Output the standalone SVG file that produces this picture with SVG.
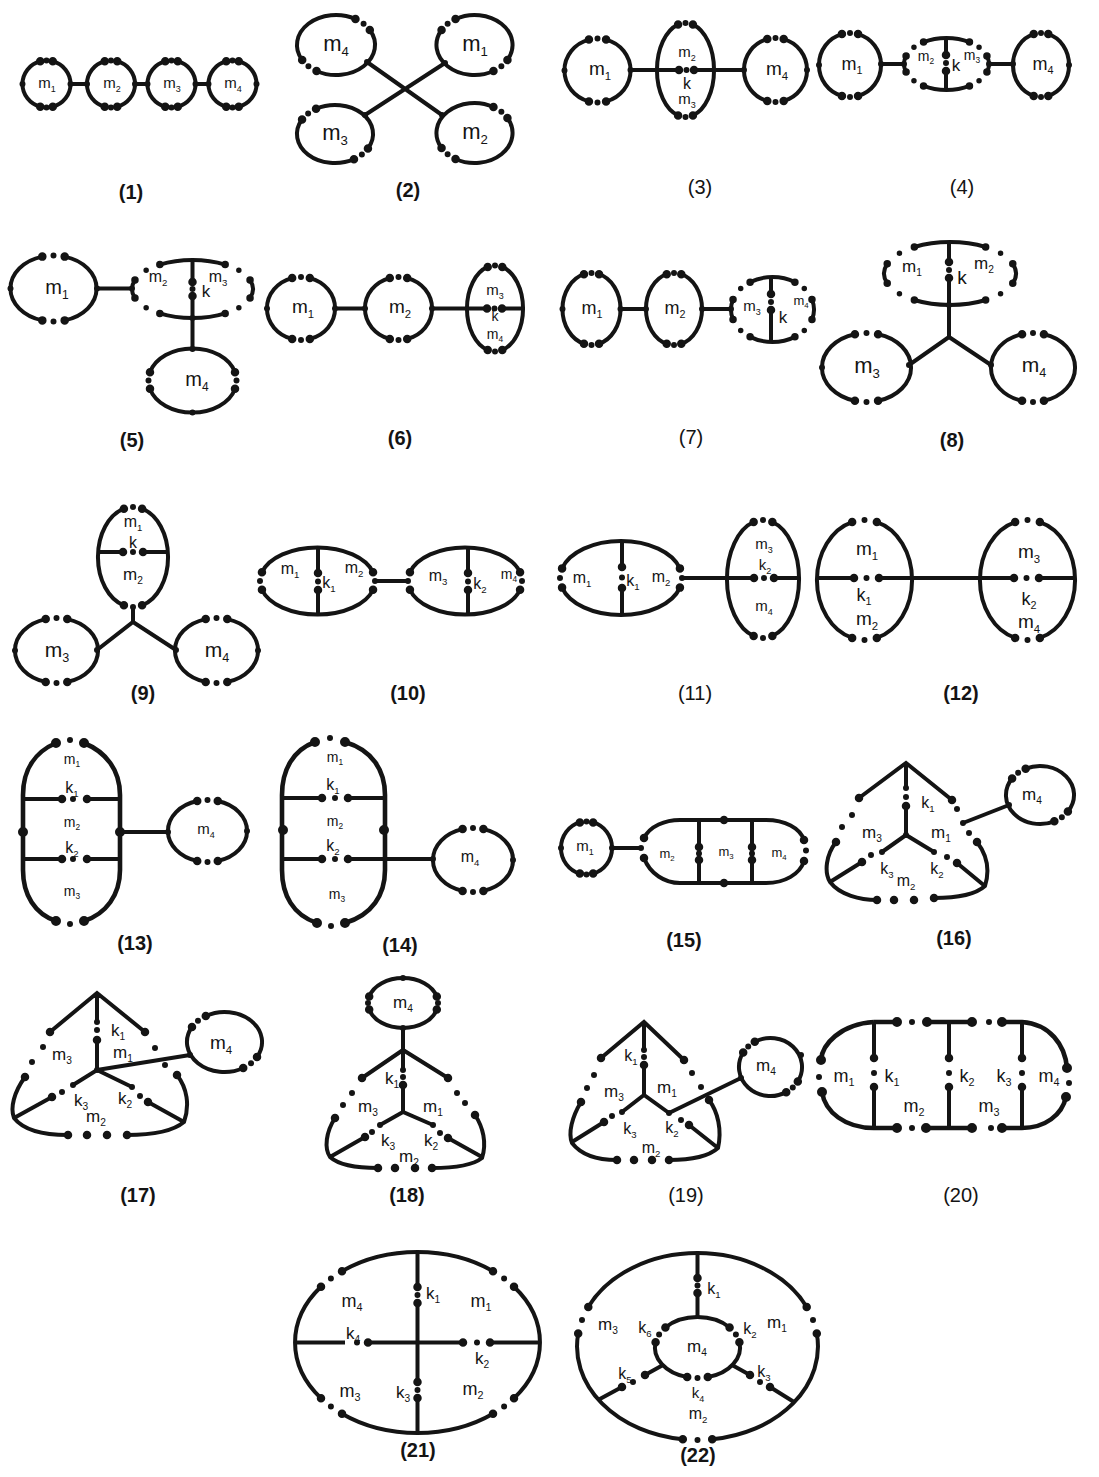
<svg xmlns="http://www.w3.org/2000/svg" width="1099" height="1477" viewBox="0 0 1099 1477">
<style>
.ln{fill:none;stroke:#141414;stroke-width:4}
.lw{fill:none;stroke:#141414;stroke-width:4.6}
.dX{fill:none;stroke:#141414;stroke-width:10;stroke-linecap:round}
.dB{fill:none;stroke:#141414;stroke-width:8.5;stroke-linecap:round}
.dS{fill:none;stroke:#141414;stroke-width:6;stroke-linecap:round}
text{font-family:"Liberation Sans",Arial,sans-serif;fill:#141414;text-anchor:middle}
.s{font-size:0.6em}
.cap{font-size:20px}
.b{font-weight:bold}
</style>
<defs>
<!-- unit ring, gaps at top and bottom, each gap drawn as three dots -->
<g id="rTB" fill="none" stroke="#141414">
<path vector-effect="non-scaling-stroke" stroke-width="4" d="M-0.26,-0.966A1,1 0 0 0 -0.26,0.966M0.26,-0.966A1,1 0 0 1 0.26,0.966"/>
<path vector-effect="non-scaling-stroke" stroke-width="8.5" stroke-linecap="round" d="M-0.26,-0.966h0M0.26,-0.966h0M-0.26,0.966h0M0.26,0.966h0"/>
<path vector-effect="non-scaling-stroke" stroke-width="6" stroke-linecap="round" d="M0,-1h0M0,1h0"/>
</g>
<!-- unit ring with four dotted diagonal gaps -->
<g id="r4" fill="none" stroke="#141414">
<path vector-effect="non-scaling-stroke" stroke-width="4" d="M-0.54,-0.842A1,1 0 0 1 0.54,-0.842M0.951,-0.309A1,1 0 0 1 0.951,0.309M0.54,0.842A1,1 0 0 1 -0.54,0.842M-0.951,0.309A1,1 0 0 1 -0.951,-0.309"/>
<path vector-effect="non-scaling-stroke" stroke-width="7.5" stroke-linecap="round" d="M-0.54,-0.842h0M0.54,-0.842h0M0.951,-0.309h0M0.951,0.309h0M0.54,0.842h0M-0.54,0.842h0M-0.951,0.309h0M-0.951,-0.309h0"/>
<path vector-effect="non-scaling-stroke" stroke-width="5.5" stroke-linecap="round" d="M-0.766,-0.643h0M0.766,-0.643h0M0.766,0.643h0M-0.766,0.643h0"/>
</g>
</defs>
<rect width="1099" height="1477" fill="#fff"/>

<!-- (1) chain of four rings -->
<g id="d1">
<g id="d1-m1"><use href="#rTB" transform="translate(46.5,84) scale(24,23.5)"/><text x="47" y="88" font-size="15">m<tspan class="s" dy=".4em">1</tspan></text></g>
<g id="d1-m2"><use href="#rTB" transform="translate(111,84) scale(24,23.5)"/><text x="112" y="88" font-size="15">m<tspan class="s" dy=".4em">2</tspan></text></g>
<g id="d1-m3"><use href="#rTB" transform="translate(171.5,84) scale(24,23.5)"/><text x="172" y="88" font-size="15">m<tspan class="s" dy=".4em">3</tspan></text></g>
<g id="d1-m4"><use href="#rTB" transform="translate(232.5,84) scale(24,23.5)"/><text x="233" y="88" font-size="15">m<tspan class="s" dy=".4em">4</tspan></text></g>
<g id="d1-links"><path class="ln" d="M70.5,84H87M135,84H147.5M195.5,84H208.5"/><path class="dS" d="M22.5,84h0M70.5,84h0M87,84h0M135,84h0M147.5,84h0M195.5,84h0M208.5,84h0M256.5,84h0"/></g>
</g>

<!-- (2) four rings joined by a cross -->
<g id="d2">
<g id="d2-m4"><use href="#rTB" transform="translate(336,45) scale(39,30) rotate(45)"/><text x="336" y="51" font-size="22">m<tspan class="s" dy=".4em">4</tspan></text></g>
<g id="d2-m1"><use href="#rTB" transform="translate(474.5,45) scale(38,30) rotate(-45)"/><text x="475" y="51" font-size="22">m<tspan class="s" dy=".4em">1</tspan></text></g>
<g id="d2-m3"><use href="#rTB" transform="translate(335,134) scale(38,29) rotate(-45)"/><text x="335" y="140" font-size="22">m<tspan class="s" dy=".4em">3</tspan></text></g>
<g id="d2-m2"><use href="#rTB" transform="translate(474.5,133) scale(38,30) rotate(45)"/><text x="475" y="139" font-size="22">m<tspan class="s" dy=".4em">2</tspan></text></g>
<g id="d2-links"><path class="ln" d="M367,62L442,115M445,63L365,115"/><path class="dS" d="M367,62h0M442,115h0M445,63h0M365,115h0"/></g>
</g>

<!-- (3) -->
<g id="d3">
<g id="d3-m1"><use href="#rTB" transform="translate(597.5,70.5) scale(33,32)"/><text x="600" y="75" font-size="19">m<tspan class="s" dy=".4em">1</tspan></text></g>
<g id="d3-m23"><use href="#rTB" transform="translate(685.5,70) scale(28.5,47)"/>
<text x="687" y="57" font-size="15">m<tspan class="s" dy=".4em">2</tspan></text><text x="687" y="89" font-size="16">k</text><text x="687" y="104" font-size="15">m<tspan class="s" dy=".4em">3</tspan></text></g>
<g id="d3-m4"><use href="#rTB" transform="translate(775.5,70) scale(31.5,32)"/><text x="777" y="75" font-size="19">m<tspan class="s" dy=".4em">4</tspan></text></g>
<g id="d3-links"><path class="ln" d="M630.5,70H679M694,70H744"/><path class="dB" d="M679,70h0M694,70h0"/><path class="dS" d="M686.5,70h0M564.5,70.5h0M630.5,70h0M744,70h0M807,70h0"/></g>
</g>

<!-- (4) -->
<g id="d4">
<g id="d4-m1"><use href="#rTB" transform="translate(850,65) scale(31,32)"/><text x="852" y="70" font-size="18">m<tspan class="s" dy=".4em">1</tspan></text></g>
<g id="d4-m23"><use href="#r4" transform="translate(946.5,64) scale(42.5,26)"/>
<text x="926" y="61" font-size="14">m<tspan class="s" dy=".4em">2</tspan></text><text x="956" y="71" font-size="17">k</text><text x="972" y="60" font-size="14">m<tspan class="s" dy=".4em">3</tspan></text></g>
<g id="d4-m4"><use href="#rTB" transform="translate(1041,65) scale(28,32)"/><text x="1043" y="70" font-size="18">m<tspan class="s" dy=".4em">4</tspan></text></g>
<g id="d4-links"><path class="ln" d="M881,64H904M989,64H1013M946,38V55M946,71V90"/><path class="dB" d="M946,55h0M946,71h0"/><path class="dS" d="M946,63h0M819,65h0M881,64h0M904,64h0M989,64h0M1013,64h0M1069,65h0"/></g>
</g>

<!-- (5) -->
<g id="d5">
<g id="d5-m1"><use href="#rTB" transform="translate(53.5,288.5) scale(43,33)"/><text x="57" y="294" font-size="20">m<tspan class="s" dy=".4em">1</tspan></text></g>
<g id="d5-m23"><use href="#r4" transform="translate(192.5,289) scale(60.5,29)"/>
<text x="158" y="282" font-size="16">m<tspan class="s" dy=".4em">2</tspan></text><text x="206" y="297" font-size="17">k</text><text x="218" y="282" font-size="16">m<tspan class="s" dy=".4em">3</tspan></text></g>
<g id="d5-m4"><use href="#rTB" transform="translate(192.5,380.5) scale(44,32) rotate(90)"/><text x="197" y="386" font-size="20">m<tspan class="s" dy=".4em">4</tspan></text></g>
<g id="d5-links"><path class="ln" d="M97,288.5H132M192.5,260V282M192.5,296V349"/><path class="dB" d="M192.5,282h0M192.5,296h0"/><path class="dS" d="M192.5,289h0M10.5,288.5h0M97,288.5h0M132,288.5h0M192.5,318h0M192.5,349h0M192.5,412.5h0"/></g>
</g>

<!-- (6) -->
<g id="d6">
<g id="d6-m1"><use href="#rTB" transform="translate(301,308.5) scale(34,31.5)"/><text x="303" y="313" font-size="19">m<tspan class="s" dy=".4em">1</tspan></text></g>
<g id="d6-m2"><use href="#rTB" transform="translate(398.5,308.5) scale(33.5,31.5)"/><text x="400" y="313" font-size="19">m<tspan class="s" dy=".4em">2</tspan></text></g>
<g id="d6-m34"><use href="#rTB" transform="translate(495,308.5) scale(28,43)"/>
<text x="495" y="295" font-size="15">m<tspan class="s" dy=".4em">3</tspan></text><text x="495" y="321" font-size="14">k</text><text x="495" y="339" font-size="14">m<tspan class="s" dy=".4em">4</tspan></text></g>
<g id="d6-links"><path class="ln" d="M335,308.5H365M432,308.5H487M502,308.5H523"/><path class="dB" d="M487,308.5h0M502,308.5h0"/><path class="dS" d="M494.5,308.5h0M267,308.5h0M335,308.5h0M365,308.5h0M432,308.5h0"/></g>
</g>

<!-- (7) -->
<g id="d7">
<g id="d7-m1"><use href="#rTB" transform="translate(591.5,309) scale(29,36)"/><text x="592" y="314" font-size="18">m<tspan class="s" dy=".4em">1</tspan></text></g>
<g id="d7-m2"><use href="#rTB" transform="translate(674,309) scale(28,36)"/><text x="675" y="314" font-size="18">m<tspan class="s" dy=".4em">2</tspan></text></g>
<g id="d7-m34"><use href="#r4" transform="translate(772.5,309.5) scale(41.5,32.5)"/>
<text x="752" y="311" font-size="15">m<tspan class="s" dy=".4em">3</tspan></text><text x="783" y="323" font-size="17">k</text><text x="801" y="305" font-size="13">m<tspan class="s" dy=".4em">4</tspan></text></g>
<g id="d7-links"><path class="ln" d="M620.5,309H646M702,309H731M771,277V294M771,310V342"/><path class="dB" d="M771,294h0M771,310h0"/><path class="dS" d="M771,302h0M562.5,309h0M620.5,309h0M646,309h0M702,309h0M731,309h0"/></g>
</g>

<!-- (8) -->
<g id="d8">
<g id="d8-m12"><use href="#r4" transform="translate(950,273.5) scale(66,31.5)"/>
<text x="912" y="272" font-size="17">m<tspan class="s" dy=".4em">1</tspan></text><text x="962" y="284" font-size="19">k</text><text x="984" y="269" font-size="17">m<tspan class="s" dy=".4em">2</tspan></text></g>
<g id="d8-m3"><use href="#rTB" transform="translate(866.5,367.5) scale(44.5,34.5)"/><text x="867" y="373" font-size="22">m<tspan class="s" dy=".4em">3</tspan></text></g>
<g id="d8-m4"><use href="#rTB" transform="translate(1033,367.5) scale(42,34.5)"/><text x="1034" y="372" font-size="21">m<tspan class="s" dy=".4em">4</tspan></text></g>
<g id="d8-links"><path class="ln" d="M949,242V262M949,278V337M909,365L949,337L991,365"/><path class="dB" d="M949,262h0M949,278h0"/><path class="dS" d="M949,270h0M949,305h0M822,367.5h0M909,365h0M991,365h0"/></g>
</g>

<!-- (9) -->
<g id="d9">
<g id="d9-m12"><use href="#rTB" transform="translate(133,557) scale(35,50)"/>
<text x="133" y="527" font-size="16">m<tspan class="s" dy=".4em">1</tspan></text><text x="133" y="548" font-size="16">k</text><text x="133" y="580" font-size="17">m<tspan class="s" dy=".4em">2</tspan></text></g>
<g id="d9-m3"><use href="#rTB" transform="translate(56.5,650.5) scale(41.5,32.5)"/><text x="57" y="657" font-size="21">m<tspan class="s" dy=".4em">3</tspan></text></g>
<g id="d9-m4"><use href="#rTB" transform="translate(216.5,650.5) scale(41.5,32.5)"/><text x="217" y="657" font-size="21">m<tspan class="s" dy=".4em">4</tspan></text></g>
<g id="d9-links"><path class="ln" d="M98,552H123M143,552H168M133,607V622M97,650L133,622L176,650"/><path class="dB" d="M123,552h0M143,552h0"/><path class="dS" d="M133,552h0M15,650.5h0M97,650h0M176,650h0M258,650.5h0"/></g>
</g>

<!-- (10) -->
<g id="d10">
<g id="d10-m12"><use href="#rTB" transform="translate(317.5,581) scale(57.5,33.5) rotate(90)"/>
<text x="290" y="574" font-size="16">m<tspan class="s" dy=".4em">1</tspan></text><text x="329" y="588" font-size="16">k<tspan class="s" dy=".4em">1</tspan></text><text x="354" y="573" font-size="16">m<tspan class="s" dy=".4em">2</tspan></text></g>
<g id="d10-m34"><use href="#rTB" transform="translate(465,581) scale(57,33.5) rotate(90)"/>
<text x="438" y="581" font-size="16">m<tspan class="s" dy=".4em">3</tspan></text><text x="480" y="589" font-size="16">k<tspan class="s" dy=".4em">2</tspan></text><text x="509" y="579" font-size="14">m<tspan class="s" dy=".4em">4</tspan></text></g>
<g id="d10-links"><path class="ln" d="M318,548V573M318,590V614.5M375,581H408M468,548V573M468,590V614.5"/><path class="dB" d="M318,573h0M318,590h0M468,573h0M468,590h0"/><path class="dS" d="M318,581.5h0M468,581.5h0"/></g>
</g>

<!-- (11) -->
<g id="d11">
<g id="d11-m12"><use href="#rTB" transform="translate(621,578) scale(61,37) rotate(90)"/>
<text x="582" y="583" font-size="16">m<tspan class="s" dy=".4em">1</tspan></text><text x="633" y="586" font-size="16">k<tspan class="s" dy=".4em">1</tspan></text><text x="661" y="582" font-size="16">m<tspan class="s" dy=".4em">2</tspan></text></g>
<g id="d11-m34"><use href="#rTB" transform="translate(763,579) scale(36,59)"/>
<text x="764" y="549" font-size="15">m<tspan class="s" dy=".4em">3</tspan></text><text x="765" y="570" font-size="15">k<tspan class="s" dy=".4em">2</tspan></text><text x="764" y="611" font-size="15">m<tspan class="s" dy=".4em">4</tspan></text></g>
<g id="d11-links"><path class="ln" d="M622,541V567M622,588V615M682,578H754M774,578H799"/><path class="dB" d="M622,567h0M622,588h0M754,578h0M774,578h0"/><path class="dS" d="M622,577.5h0M764,578h0"/></g>
</g>

<!-- (12) -->
<g id="d12">
<g id="d12-m12"><use href="#rTB" transform="translate(864.5,580) scale(47.5,60)"/>
<text x="867" y="555" font-size="19">m<tspan class="s" dy=".4em">1</tspan></text><text x="864" y="601" font-size="18">k<tspan class="s" dy=".4em">1</tspan></text><text x="867" y="625" font-size="19">m<tspan class="s" dy=".4em">2</tspan></text></g>
<g id="d12-m34"><use href="#rTB" transform="translate(1027.5,580) scale(47.5,60)"/>
<text x="1029" y="558" font-size="19">m<tspan class="s" dy=".4em">3</tspan></text><text x="1029" y="605" font-size="18">k<tspan class="s" dy=".4em">2</tspan></text><text x="1029" y="628" font-size="19">m<tspan class="s" dy=".4em">4</tspan></text></g>
<g id="d12-links"><path class="ln" d="M817,578H854M879,578H1014M1039,578H1075"/><path class="dB" d="M854,578h0M879,578h0M1014,578h0M1039,578h0"/><path class="dS" d="M866.5,578h0M1026.5,578h0"/></g>
</g>

<!-- (13) -->
<g id="d13">
<g id="d13-m123"><path class="lw" d="M56,743C35,752 23,770 23,795L23,870C23,895 35,914 56,921M84,743C106,752 120,770 120,795L120,870C120,895 106,914 84,921"/>
<path class="dX" d="M56,743h0M84,743h0M56,921h0M84,921h0M23,832h0M120,832h0"/><path class="dS" d="M70,740h0M70,924h0"/>
<text x="72" y="764" font-size="14">m<tspan class="s" dy=".4em">1</tspan></text><text x="72" y="793" font-size="16">k<tspan class="s" dy=".4em">1</tspan></text><text x="72" y="827" font-size="14">m<tspan class="s" dy=".4em">2</tspan></text><text x="72" y="853" font-size="16">k<tspan class="s" dy=".4em">2</tspan></text><text x="72" y="896" font-size="14">m<tspan class="s" dy=".4em">3</tspan></text></g>
<g id="d13-m4"><use href="#rTB" transform="translate(207.5,831) scale(39.5,31)"/><text x="206" y="834" font-size="15">m<tspan class="s" dy=".4em">4</tspan></text></g>
<g id="d13-links"><path class="ln" d="M23,799H62M87,799H120M23,859H62M87,859H120M120,832H168"/><path class="dB" d="M62,799h0M87,799h0M62,859h0M87,859h0"/><path class="dS" d="M73,799h0M73,859h0M168,832h0M247,831h0"/></g>
</g>

<!-- (14) -->
<g id="d14">
<g id="d14-m123"><path class="lw" d="M315,742C293,750 282,770 282,795L282,870C282,895 293,915 317,923M345,742C372,750 385,770 385,795L385,870C385,895 372,915 345,923"/>
<path class="dX" d="M315,742h0M345,742h0M317,923h0M345,923h0M283,830h0M384,830h0"/><path class="dS" d="M330,738h0M331,926h0"/>
<text x="335" y="762" font-size="14">m<tspan class="s" dy=".4em">1</tspan></text><text x="333" y="790" font-size="16">k<tspan class="s" dy=".4em">1</tspan></text><text x="335" y="826" font-size="14">m<tspan class="s" dy=".4em">2</tspan></text><text x="333" y="851" font-size="16">k<tspan class="s" dy=".4em">2</tspan></text><text x="337" y="899" font-size="14">m<tspan class="s" dy=".4em">3</tspan></text></g>
<g id="d14-m4"><use href="#rTB" transform="translate(473,860) scale(40,32)"/><text x="470" y="862" font-size="16">m<tspan class="s" dy=".4em">4</tspan></text></g>
<g id="d14-links"><path class="ln" d="M282,798H322M348,798H385M282,859H322M348,859H433"/><path class="dB" d="M322,798h0M348,798h0M322,859h0M348,859h0"/><path class="dS" d="M335,798h0M335,859h0M433,859h0M513,860h0"/></g>
</g>

<!-- (15) -->
<g id="d15">
<g id="d15-m1"><use href="#rTB" transform="translate(586.5,848) scale(25.5,26.5)"/><text x="585" y="851" font-size="15">m<tspan class="s" dy=".4em">1</tspan></text></g>
<g id="d15-m234"><path class="ln" d="M644,838C650,826 665,820 680,820L766,820C785,820 800,828 804,840M644,858C650,874 665,883 680,883L766,883C785,883 800,874 804,861"/>
<path class="dB" d="M644,838h0M644,858h0M804,840h0M804,861h0M724,820h0M724,883h0"/><path class="dS" d="M641,848h0M806,850.5h0"/>
<text x="667" y="858" font-size="13">m<tspan class="s" dy=".4em">2</tspan></text><text x="726" y="856" font-size="13">m<tspan class="s" dy=".4em">3</tspan></text><text x="779" y="857" font-size="13">m<tspan class="s" dy=".4em">4</tspan></text></g>
<g id="d15-links"><path class="ln" d="M612,848H641M699,820V847M699,860V883M752,820V847M752,860V883"/><path class="dB" d="M699,847h0M699,860h0M752,847h0M752,860h0"/><path class="dS" d="M699,853.5h0M752,853.5h0M561,848h0M612,848h0"/></g>
</g>

<!-- (16) -->
<g id="d16">
<g id="d16-core"><path class="ln" d="M859,798L906,763L952,800M906,763V788M906,806V835M882,852L906,835L934,852M836,842C826,855 824,872 830,882C840,895 860,900 877,900M830,882L862,862M934,898C955,898 975,895 985,886C990,870 987,855 977,842M986,887L957,863"/>
<path class="dB" d="M859,798h0M952,800h0M836,842h0M877,900h0M862,862h0M894,900h0M914,900h0M934,898h0M977,842h0M957,863h0M906,806h0"/>
<path class="dS" d="M906,788h0M906,797h0M882,852h0M934,852h0M852,815h0M842,827h0M871,855h0M957,809h0M969,833h0M947,857h0M906,835h0"/>
<text x="928" y="808" font-size="16">k<tspan class="s" dy=".4em">1</tspan></text><text x="872" y="838" font-size="17">m<tspan class="s" dy=".4em">3</tspan></text><text x="941" y="838" font-size="17">m<tspan class="s" dy=".4em">1</tspan></text><text x="887" y="874" font-size="16">k<tspan class="s" dy=".4em">3</tspan></text><text x="906" y="886" font-size="16">m<tspan class="s" dy=".4em">2</tspan></text><text x="937" y="874" font-size="16">k<tspan class="s" dy=".4em">2</tspan></text></g>
<g id="d16-m4"><use href="#rTB" transform="translate(1040,795) scale(34,29) rotate(-40)"/><text x="1032" y="800" font-size="17">m<tspan class="s" dy=".4em">4</tspan></text></g>
<g id="d16-links"><path class="ln" d="M963,823L1009,805"/><path class="dS" d="M963,823h0M1009,805h0"/></g>
</g>

<!-- (17) -->
<g id="d17">
<g id="d17-core"><path class="ln" d="M50,1032L97,993L145,1032M97,993V1022M97,1040V1070M73,1085L97,1070L132,1087M25,1077C14,1092 10,1108 14,1118C25,1132 48,1135 68,1135M14,1118L52,1097M127,1135C150,1135 172,1132 184,1122C190,1105 187,1088 177,1075M184,1122L148,1102"/>
<path class="dB" d="M50,1032h0M145,1032h0M97,1040h0M25,1077h0M68,1135h0M52,1097h0M87,1135h0M107,1135h0M127,1135h0M177,1075h0M148,1102h0"/>
<path class="dS" d="M97,1022h0M97,1030h0M73,1085h0M132,1087h0M43,1047h0M32,1062h0M62,1092h0M155,1048h0M165,1065h0M140,1096h0"/>
<text x="118" y="1036" font-size="17">k<tspan class="s" dy=".4em">1</tspan></text><text x="62" y="1060" font-size="17">m<tspan class="s" dy=".4em">3</tspan></text><text x="123" y="1058" font-size="17">m<tspan class="s" dy=".4em">1</tspan></text><text x="81" y="1106" font-size="17">k<tspan class="s" dy=".4em">3</tspan></text><text x="96" y="1122" font-size="17">m<tspan class="s" dy=".4em">2</tspan></text><text x="125" y="1104" font-size="17">k<tspan class="s" dy=".4em">2</tspan></text></g>
<g id="d17-m4"><use href="#rTB" transform="translate(224.5,1042) scale(37.5,30) rotate(-45)"/><text x="221" y="1049" font-size="19">m<tspan class="s" dy=".4em">4</tspan></text></g>
<g id="d17-links"><path class="ln" d="M97,1070L190,1055"/><path class="dS" d="M190,1055h0M97,1070h0"/></g>
</g>

<!-- (18) -->
<g id="d18">
<g id="d18-m4"><use href="#rTB" transform="translate(403,1003) scale(35,25) rotate(90)"/><path class="dS" d="M403,978h0M403,1028h0"/><text x="403" y="1008" font-size="17">m<tspan class="s" dy=".4em">4</tspan></text></g>
<g id="d18-core"><path class="ln" d="M362,1078L403,1050L448,1078M403,1050V1070M403,1085V1112M380,1125L403,1112L433,1125M335,1118C326,1132 324,1148 330,1157C340,1166 360,1168 378,1168M330,1157L365,1137M432,1168C452,1168 472,1166 482,1158C487,1143 483,1127 475,1115M482,1157L448,1138"/>
<path class="dB" d="M362,1078h0M448,1078h0M403,1085h0M335,1118h0M378,1168h0M365,1137h0M395,1168h0M415,1168h0M432,1168h0M475,1115h0M448,1138h0"/>
<path class="dS" d="M403,1070h0M403,1077h0M380,1125h0M433,1125h0M352,1093h0M343,1105h0M372,1132h0M457,1093h0M465,1103h0M440,1133h0"/>
<text x="392" y="1084" font-size="17">k<tspan class="s" dy=".4em">1</tspan></text><text x="368" y="1112" font-size="17">m<tspan class="s" dy=".4em">3</tspan></text><text x="433" y="1112" font-size="17">m<tspan class="s" dy=".4em">1</tspan></text><text x="388" y="1146" font-size="17">k<tspan class="s" dy=".4em">3</tspan></text><text x="409" y="1162" font-size="17">m<tspan class="s" dy=".4em">2</tspan></text><text x="431" y="1146" font-size="17">k<tspan class="s" dy=".4em">2</tspan></text></g>
<g id="d18-links"><path class="ln" d="M403,1028V1050"/></g>
</g>

<!-- (19) -->
<g id="d19">
<g id="d19-core"><path class="ln" d="M601,1058L644,1022L684,1060M644,1022V1050M644,1065V1095M622,1112L644,1095L669,1113M581,1102C572,1117 568,1133 572,1143C582,1156 600,1160 617,1160M572,1142L604,1122M669,1160C690,1160 708,1157 718,1148C722,1130 718,1112 709,1100M718,1148L689,1125"/>
<path class="dB" d="M601,1058h0M684,1060h0M644,1065h0M581,1102h0M617,1160h0M604,1122h0M634,1160h0M652,1160h0M669,1160h0M709,1100h0M689,1125h0"/>
<path class="dS" d="M644,1050h0M644,1057h0M622,1112h0M594,1075h0M587,1088h0M612,1116h0M692,1073h0M701,1087h0M681,1120h0"/>
<text x="631" y="1061" font-size="16">k<tspan class="s" dy=".4em">1</tspan></text><text x="614" y="1097" font-size="17">m<tspan class="s" dy=".4em">3</tspan></text><text x="667" y="1093" font-size="17">m<tspan class="s" dy=".4em">1</tspan></text><text x="630" y="1134" font-size="16">k<tspan class="s" dy=".4em">3</tspan></text><text x="651" y="1153" font-size="16">m<tspan class="s" dy=".4em">2</tspan></text><text x="672" y="1133" font-size="16">k<tspan class="s" dy=".4em">2</tspan></text></g>
<g id="d19-m4"><use href="#rTB" transform="translate(770.5,1067) scale(31.5,29) rotate(-45)"/><path class="dS" d="M801,1055h0"/><text x="766" y="1071" font-size="17">m<tspan class="s" dy=".4em">4</tspan></text></g>
<g id="d19-links"><path class="ln" d="M669,1113L741,1078"/><path class="dS" d="M669,1113h0M741,1078h0"/></g>
</g>

<!-- (20) -->
<g id="d20">
<g id="d20-body"><path class="lw" d="M874,1022C840,1024 822,1045 821,1060M822,1092C825,1112 845,1128 874,1128M874,1022H897M927,1022H972M1002,1022H1022C1050,1024 1065,1045 1067,1068M1066,1097C1062,1115 1045,1128 1022,1128H1002M972,1128H926M897,1128H874"/>
<path class="dX" d="M821,1060h0M822,1092h0M897,1022h0M927,1022h0M972,1022h0M1002,1022h0M1067,1068h0M1066,1097h0M1002,1128h0M972,1128h0M926,1128h0M897,1128h0"/>
<path class="dS" d="M819,1077h0M912,1022h0M989,1022h0M1069,1083h0M991,1128h0M912,1128h0"/>
<text x="844" y="1082" font-size="18">m<tspan class="s" dy=".4em">1</tspan></text><text x="892" y="1082" font-size="18">k<tspan class="s" dy=".4em">1</tspan></text><text x="967" y="1082" font-size="18">k<tspan class="s" dy=".4em">2</tspan></text><text x="1004" y="1082" font-size="18">k<tspan class="s" dy=".4em">3</tspan></text><text x="1049" y="1082" font-size="18">m<tspan class="s" dy=".4em">4</tspan></text><text x="914" y="1112" font-size="18">m<tspan class="s" dy=".4em">2</tspan></text><text x="989" y="1112" font-size="18">m<tspan class="s" dy=".4em">3</tspan></text></g>
<g id="d20-links"><path class="ln" d="M874,1022V1058M874,1087V1128M949,1022V1058M949,1087V1128M1022,1022V1058M1022,1087V1128"/><path class="dB" d="M874,1058h0M874,1087h0M949,1058h0M949,1087h0M1022,1058h0M1022,1087h0"/><path class="dS" d="M874,1073h0M949,1073h0M1022,1073h0"/></g>
</g>

<!-- (21) -->
<g id="d21">
<g id="d21-body"><path class="ln" d="M342,1271.2A122.5,90.5 0 0 1 493,1271.2M514,1286.8A122.5,90.5 0 0 1 514,1398.2M493,1413.8A122.5,90.5 0 0 1 342,1413.8M321,1398.2A122.5,90.5 0 0 1 321,1286.8"/>
<path class="dB" d="M342,1271.2h0M493,1271.2h0M514,1286.8h0M514,1398.2h0M493,1413.8h0M342,1413.8h0M321,1398.2h0M321,1286.8h0"/>
<path class="dS" d="M330.9,1278.5h0M504.1,1278.5h0M504.1,1406.5h0M330.9,1406.5h0"/>
<text x="433" y="1299" font-size="17">k<tspan class="s" dy=".4em">1</tspan></text><text x="481" y="1307" font-size="18">m<tspan class="s" dy=".4em">1</tspan></text><text x="352" y="1307" font-size="18">m<tspan class="s" dy=".4em">4</tspan></text><text x="353" y="1339" font-size="17">k<tspan class="s" dy=".4em">4</tspan></text><text x="482" y="1364" font-size="17">k<tspan class="s" dy=".4em">2</tspan></text><text x="350" y="1397" font-size="18">m<tspan class="s" dy=".4em">3</tspan></text><text x="403" y="1398" font-size="17">k<tspan class="s" dy=".4em">3</tspan></text><text x="473" y="1395" font-size="18">m<tspan class="s" dy=".4em">2</tspan></text></g>
<g id="d21-links"><path class="ln" d="M417.5,1252V1287M417.5,1303V1382M417.5,1398V1433M295,1342.5H345M368,1342.5H463M490,1342.5H540"/>
<path class="dB" d="M417.5,1287h0M417.5,1303h0M417.5,1382h0M417.5,1398h0M368,1342.5h0M463,1342.5h0M490,1342.5h0"/>
<path class="dS" d="M417.5,1295h0M417.5,1390h0M357,1342.5h0M477,1342.5h0"/></g>
</g>

<!-- (22) -->
<g id="d22">
<g id="d22-outer"><path class="ln" d="M588.3,1307A120.5,93.5 0 0 1 806.7,1307M816.8,1333.5A120.5,93.5 0 0 1 712.2,1439.3M682.8,1439.3A120.5,93.5 0 0 1 578.2,1333.5"/>
<path class="dB" d="M588.3,1307h0M806.7,1307h0M816.8,1333.5h0M712.2,1439.3h0M682.8,1439.3h0M578.2,1333.5h0"/>
<path class="dS" d="M582,1320h0M813,1320h0M697.5,1440h0"/>
<text x="608" y="1330" font-size="17">m<tspan class="s" dy=".4em">3</tspan></text><text x="777" y="1328" font-size="17">m<tspan class="s" dy=".4em">1</tspan></text><text x="698" y="1419" font-size="16">m<tspan class="s" dy=".4em">2</tspan></text></g>
<g id="d22-m4"><path class="ln" d="M665.4,1327.5A42.5,30.5 0 0 1 729.6,1327.5M739.4,1342.2A42.5,30.5 0 0 1 707.8,1377.1M687.2,1377.1A42.5,30.5 0 0 1 655.6,1342.2"/>
<path class="dB" d="M665.4,1327.5h0M729.6,1327.5h0M739.4,1342.2h0M707.8,1377.1h0M687.2,1377.1h0M655.6,1342.2h0"/>
<path class="dS" d="M659.1,1334.4h0M735.9,1334.4h0M697.5,1378h0"/>
<text x="697" y="1352" font-size="17">m<tspan class="s" dy=".4em">4</tspan></text></g>
<g id="d22-links"><path class="ln" d="M697.5,1253V1278M697.5,1293V1317M663,1365L645,1375M622,1387L598,1400M732,1365L750,1375M770,1387L794,1402"/>
<path class="dB" d="M697.5,1278h0M697.5,1293h0M645,1375h0M622,1387h0M750,1375h0M770,1387h0"/>
<path class="dS" d="M697.5,1285.5h0M633,1382h0M760,1382h0"/>
<text x="714" y="1294" font-size="16">k<tspan class="s" dy=".4em">1</tspan></text><text x="645" y="1333" font-size="16">k<tspan class="s" dy=".4em">6</tspan></text><text x="750" y="1334" font-size="16">k<tspan class="s" dy=".4em">2</tspan></text><text x="625" y="1379" font-size="16">k<tspan class="s" dy=".4em">5</tspan></text><text x="764" y="1377" font-size="16">k<tspan class="s" dy=".4em">3</tspan></text><text x="698" y="1398" font-size="15">k<tspan class="s" dy=".4em">4</tspan></text></g>
</g>

<!-- captions -->
<g id="captions">
<text class="cap b" x="131" y="199">(1)</text>
<text class="cap b" x="408" y="197">(2)</text>
<text class="cap" x="700" y="194">(3)</text>
<text class="cap" x="962" y="194">(4)</text>
<text class="cap b" x="132" y="447">(5)</text>
<text class="cap b" x="400" y="445">(6)</text>
<text class="cap" x="691" y="444">(7)</text>
<text class="cap b" x="952" y="447">(8)</text>
<text class="cap b" x="143" y="700">(9)</text>
<text class="cap b" x="408" y="700">(10)</text>
<text class="cap" x="695" y="700">(11)</text>
<text class="cap b" x="961" y="700">(12)</text>
<text class="cap b" x="135" y="950">(13)</text>
<text class="cap b" x="400" y="952">(14)</text>
<text class="cap b" x="684" y="947">(15)</text>
<text class="cap b" x="954" y="945">(16)</text>
<text class="cap b" x="138" y="1202">(17)</text>
<text class="cap b" x="407" y="1202">(18)</text>
<text class="cap" x="686" y="1202">(19)</text>
<text class="cap" x="961" y="1202">(20)</text>
<text class="cap b" x="418" y="1457">(21)</text>
<text class="cap b" x="698" y="1462">(22)</text>
</g>
</svg>
